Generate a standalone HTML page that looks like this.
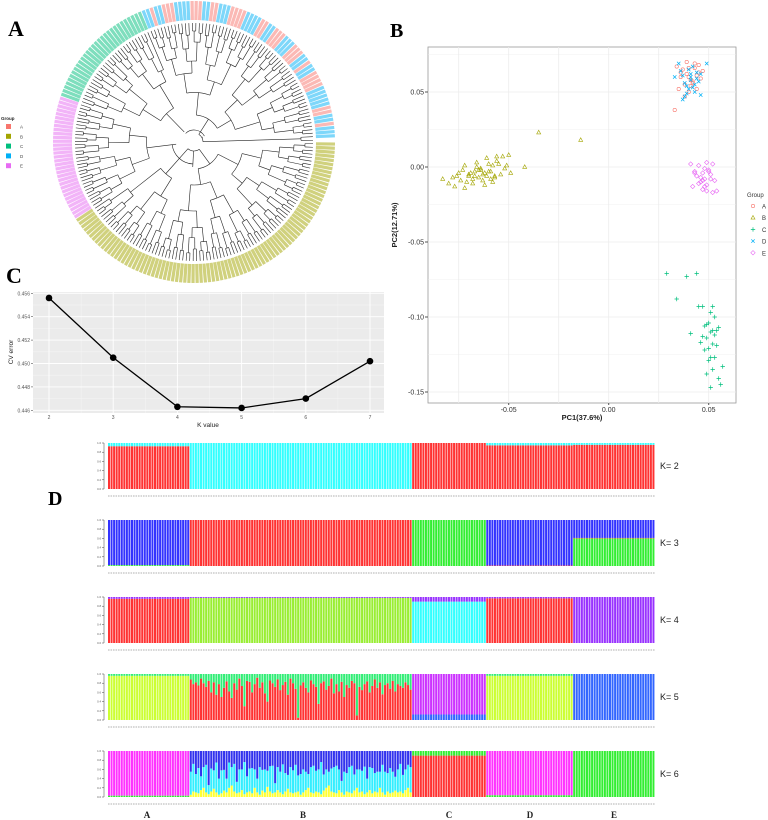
<!DOCTYPE html>
<html><head><meta charset="utf-8"><style>
body{margin:0;background:#fff;width:768px;height:820px;overflow:hidden}
svg{display:block;font-family:"Liberation Sans",sans-serif}
.pl{font-family:"Liberation Serif",serif;font-weight:bold}
</style></head><body>
<svg id="s" width="768" height="820" viewBox="0 0 768 820">
<text class="pl" x="8" y="36" font-size="22">A</text>
<text class="pl" x="390" y="37" font-size="20">B</text>
<text class="pl" x="6" y="283" font-size="22">C</text>
<text class="pl" x="48" y="505" font-size="20">D</text>
<g id="gA"></g>
<g id="gB"></g>
<g id="gC"></g>
<g id="gD"></g>
</svg>
<script>
// ---------- data ----------
const groups=["A","B","C","D","E"];
const groupColors=["#F8766D","#A3A500","#00BF7D","#00B0F6","#E76BF3"];
// Panel C
const kValues=[2,3,4,5,6,7];
const cvError=[0.4556,0.4505,0.4463,0.4462,0.4470,0.4502];
const cvTicks=[0.446,0.448,0.450,0.452,0.454,0.456];
// Panel B (PCA)
const pcaAx=[0.036,0.040,0.043,0.038,0.045,0.041,0.039,0.047,0.035,0.042,0.044,0.037,0.040,0.046,0.038,0.033,0.041,0.043,0.039,0.036,0.045,0.042,0.040,0.034,0.044];
const pcaAy=[0.063,0.060,0.066,0.055,0.068,0.058,0.062,0.064,0.052,0.057,0.061,0.065,0.050,0.059,0.047,0.038,0.054,0.069,0.070,0.060,0.063,0.056,0.066,0.067,0.052];
const pcaBx=[-0.083,-0.080,-0.078,-0.077,-0.075,-0.074,-0.073,-0.072,-0.071,-0.070,-0.069,-0.068,-0.067,-0.066,-0.065,-0.064,-0.063,-0.062,-0.061,-0.060,-0.059,-0.058,-0.057,-0.056,-0.055,-0.054,-0.053,-0.052,-0.051,-0.050,-0.072,-0.068,-0.065,-0.062,-0.060,-0.058,-0.066,-0.070,-0.063,-0.061,-0.059,-0.064,-0.067,-0.057,-0.056,-0.035,-0.014,-0.042,-0.049,-0.076];
const pcaBy=[-0.008,-0.011,-0.007,-0.013,-0.004,-0.009,-0.002,0.001,-0.010,-0.006,-0.004,-0.011,-0.003,0.000,-0.007,-0.001,-0.005,-0.012,0.006,-0.003,-0.008,0.001,-0.006,0.007,0.002,-0.005,0.007,-0.001,0.001,0.008,-0.014,-0.008,-0.002,-0.004,0.002,-0.010,0.003,-0.005,-0.009,-0.006,-0.003,-0.002,-0.006,-0.007,0.004,0.023,0.018,0.000,-0.004,-0.006];
const pcaCx=[0.029,0.039,0.044,0.034,0.045,0.047,0.052,0.051,0.053,0.049,0.055,0.050,0.052,0.048,0.054,0.041,0.047,0.049,0.051,0.053,0.050,0.052,0.048,0.054,0.051,0.050,0.053,0.057,0.055,0.052,0.056,0.051,0.049,0.046];
const pcaCy=[-0.071,-0.073,-0.071,-0.088,-0.093,-0.093,-0.093,-0.097,-0.100,-0.105,-0.107,-0.104,-0.109,-0.106,-0.109,-0.111,-0.113,-0.114,-0.110,-0.112,-0.121,-0.118,-0.122,-0.119,-0.127,-0.129,-0.127,-0.133,-0.141,-0.135,-0.145,-0.147,-0.138,-0.117];
const pcaDx=[0.037,0.041,0.044,0.039,0.043,0.036,0.046,0.040,0.042,0.038,0.045,0.035,0.041,0.043,0.039,0.049,0.037,0.044,0.040,0.042,0.033,0.038,0.046,0.041];
const pcaDy=[0.061,0.058,0.063,0.049,0.055,0.064,0.062,0.052,0.067,0.047,0.057,0.069,0.060,0.050,0.054,0.069,0.045,0.059,0.065,0.053,0.060,0.056,0.048,0.062];
const pcaEx=[0.041,0.043,0.045,0.047,0.048,0.049,0.050,0.046,0.044,0.048,0.051,0.052,0.053,0.054,0.047,0.045,0.049,0.050,0.046,0.048,0.051,0.043,0.042,0.047,0.049,0.052];
const pcaEy=[0.002,-0.003,0.001,-0.004,-0.008,0.003,-0.002,-0.010,-0.006,-0.013,-0.005,0.002,-0.009,-0.016,-0.015,-0.011,-0.012,-0.003,-0.007,-0.001,-0.008,-0.004,-0.013,-0.009,-0.016,-0.017];
const pcaXTicks=[-0.05,0.00,0.05];
const pcaYTicks=[0.05,0.00,-0.05,-0.10,-0.15];
// Panel D (admixture)
const groupCounts=[32,87,29,34,32];
const kRows=[2,3,4,5,6];
const k2Colors=["#ff3333","#33ffff"];
const k2Mix=[[0.93,0.07],[0,1],[1,0],[0.95,0.05],[0.96,0.04]];
const k3Colors=["#33ee33","#ff3333","#3333ff"];
const k3Mix=[[0.02,0,0.98],[0,1,0],[1,0,0],[0,0.01,0.99],[0.6,0.01,0.39]];
const k4Colors=["#ff3333","#99ee33","#33ffff","#9933ff"];
const k4Mix=[[0.96,0,0,0.04],[0,0.98,0,0.02],[0,0,0.9,0.1],[0.97,0,0,0.03],[0,0,0,1]];
const k5Colors=["#3366ff","#ff3333","#ccff33","#cc33ff","#33ee77"];
const k5Mix=[[0,0,0.96,0,0.04],[0,0.8,0,0,0.2],[0.12,0,0,0.88,0],[0,0,0.96,0,0.04],[1,0,0,0,0]];
const k5BRed=[0.88,0.78,0.82,0.75,0.9,0.8,0.72,0.85,0.6,0.82,0.55,0.78,0.5,0.7,0.84,0.62,0.48,0.8,0.66,0.9,0.74,0.3,0.85,0.83,0.6,0.78,0.92,0.7,0.82,0.58,0.4,0.86,0.8,0.72,0.88,0.65,0.76,0.83,0.55,0.9,0.8,0.68,0.05,0.75,0.82,0.7,0.6,0.86,0.78,0.72,0.35,0.8,0.84,0.66,0.74,0.9,0.58,0.78,0.62,0.83,0.5,0.76,0.7,0.85,0.8,0.1,0.72,0.65,0.78,0.84,0.6,0.74,0.88,0.7,0.82,0.56,0.76,0.8,0.68,0.85,0.62,0.78,0.74,0.7,0.82,0.76,0.66];
const k6Colors=["#ffff33","#33eeff","#3333ee","#ff3333","#33ee33","#ff33ff"];
const k6Mix=[[0,0,0,0,0.03,0.97],[0.1,0.5,0.4,0,0,0],[0,0,0,0.9,0.1,0],[0,0,0,0,0.04,0.96],[0,0,0,0,1,0]];
const k6BYellow=[0.05,0.12,0.1,0.08,0.15,0.2,0.1,0.06,0.12,0.18,0.1,0.05,0.08,0.14,0.1,0.2,0.25,0.12,0.08,0.1,0.15,0.06,0.1,0.12,0.08,0.2,0.1,0.05,0.14,0.1,0.22,0.12,0.08,0.1,0.15,0.1,0.06,0.12,0.18,0.1,0.08,0.1,0.12,0.05,0.1,0.15,0.2,0.1,0.08,0.12,0.1,0.06,0.14,0.2,0.25,0.12,0.1,0.08,0.15,0.1,0.05,0.12,0.1,0.08,0.14,0.2,0.1,0.12,0.06,0.1,0.15,0.08,0.12,0.1,0.2,0.1,0.05,0.12,0.08,0.1,0.14,0.1,0.12,0.08,0.15,0.2,0.1];
const k6BCyan=[0.5,0.6,0.4,0.55,0.3,0.45,0.6,0.2,0.5,0.4,0.65,0.35,0.5,0.45,0.3,0.55,0.4,0.6,0.25,0.5,0.45,0.7,0.35,0.5,0.55,0.4,0.3,0.6,0.45,0.5,0.35,0.55,0.6,0.2,0.5,0.45,0.65,0.4,0.3,0.55,0.5,0.6,0.35,0.45,0.5,0.4,0.3,0.55,0.6,0.45,0.5,0.7,0.35,0.4,0.3,0.5,0.55,0.6,0.45,0.25,0.5,0.4,0.55,0.6,0.35,0.4,0.5,0.45,0.6,0.3,0.5,0.55,0.4,0.45,0.35,0.6,0.5,0.4,0.55,0.45,0.3,0.5,0.6,0.4,0.45,0.5,0.55];
// Panel A leaf ordering of mixed A/D clade
const adOrder="DDADDAAADDDDAAADDAADDDAAAADDDDAADDAAADDDAAADDADDAAAADDDDDAADDADDD";

const NS="http://www.w3.org/2000/svg";
function mk(tag,attrs,parent){const e=document.createElementNS(NS,tag);for(const k in attrs)e.setAttribute(k,attrs[k]);parent.appendChild(e);return e;}

// ---------- Panel A ----------
(function(){
const g=document.getElementById("gA");
const cx=194,cy=142,rLeaf=119,rIn=122,rOut=141;
const spans=[["B",0,147,87],["E",147,199,32],["C",199,248,29],["AD",248,360,66]];
const rad=a=>a*Math.PI/180;
const P=(r,a)=>[cx+r*Math.cos(rad(a)),cy+r*Math.sin(rad(a))];
let tops=[];
spans.forEach((sp,si)=>{
  const n=sp[3],step=(sp[2]-sp[1])/n;
  let nodes=[];
  for(let i=0;i<n;i++){
    const a=sp[1]+step*(i+0.5);
    const grp=sp[0]==="AD"?adOrder[i]:sp[0];
    const col=groupColors[groups.indexOf(grp)];
    const p1=P(rIn,a),p2=P(rOut,a);
    const ln=mk("line",{x1:p1[0],y1:p1[1],x2:p2[0],y2:p2[1],stroke:col,"stroke-width":3.2,opacity:0.5},g);
    
    
    nodes.push({a:a,r:rLeaf});
  }
  let lvl=0;const dr=[8,9,10,12,14,16,18,20];
  while(nodes.length>1){
    const nx=[];
    for(let i=0;i<nodes.length;i+=2){
      if(i+1>=nodes.length){nx.push(nodes[i]);continue;}
      const a=nodes[i],b=nodes[i+1];
      const r=Math.min(a.r,b.r)-dr[Math.min(lvl,7)]*(1+((i/2+si)%3)*0.25);
      [a,b].forEach(c=>{const p1=P(c.r,c.a),p2=P(r,c.a);mk("line",{x1:p1[0],y1:p1[1],x2:p2[0],y2:p2[1],stroke:"#222","stroke-width":0.6},g);});
      const p1=P(r,a.a),p2=P(r,b.a);
      mk("path",{d:`M${p1[0]},${p1[1]}A${r},${r} 0 0 1 ${p2[0]},${p2[1]}`,fill:"none",stroke:"#222","stroke-width":0.6},g);
      nx.push({a:(a.a+b.a)/2,r:r});
    }
    nodes=nx;lvl++;
  }
  tops.push(nodes[0]);
});
const rootR=[25,18,14,10];
tops.forEach((t,i)=>{const r=rootR[i];const p1=P(t.r,t.a),p2=P(r,t.a);mk("line",{x1:p1[0],y1:p1[1],x2:p2[0],y2:p2[1],stroke:"#222","stroke-width":0.6},g);});
mk("path",{d:`M${P(22,tops[0].a)}A22,22 0 0 1 ${P(22,tops[1].a)}`,fill:"none",stroke:"#222","stroke-width":0.6},g);
mk("path",{d:`M${P(12,tops[2].a)}A12,12 0 0 1 ${P(12,tops[3].a)}`,fill:"none",stroke:"#222","stroke-width":0.6},g);
// legend
const lg=mk("g",{},g);
mk("text",{x:1,y:120,"font-size":4.5,"font-weight":"bold",fill:"#222"},lg).textContent="Group";
groups.forEach((gr,i)=>{const y=124+i*9.8;
  const r=mk("rect",{x:6,y:y,width:5,height:5,fill:groupColors[i]},lg);
  
  mk("text",{x:20,y:y+4.5,"font-size":4.5,fill:"#444"},lg).textContent=gr;});
})();

// ---------- Panel B ----------
(function(){
const g=document.getElementById("gB");
const x0=428,x1=736,y0=47,y1=403;
const X=v=>608.7+v*2000, Y=v=>167-v*1500;
mk("rect",{x:x0,y:y0,width:x1-x0,height:y1-y0,fill:"#fff",stroke:"#999","stroke-width":0.8},g);
for(let v=-0.075;v<=0.06;v+=0.025){const x=X(v);if(x>x0&&x<x1)mk("line",{x1:x,y1:y0,x2:x,y2:y1,stroke:"#ececec","stroke-width":Math.abs(Math.round(v*40)-v*40)<0.01?0.8:0.4},g);}
for(let v=0.075;v>=-0.175;v-=0.025){const y=Y(v);if(y>y0&&y<y1)mk("line",{x1:x0,y1:y,x2:x1,y2:y,stroke:"#ececec","stroke-width":Math.abs(Math.round(v*20)-v*20)<0.01?0.8:0.4},g);}
pcaXTicks.forEach(v=>{const x=X(v);mk("line",{x1:x,y1:y1,x2:x,y2:y1+2,stroke:"#555"},g);mk("text",{x:x,y:y1+9,"font-size":7,"text-anchor":"middle",fill:"#333"},g).textContent=v.toFixed(2);});
pcaYTicks.forEach(v=>{const y=Y(v);mk("line",{x1:x0-3,y1:y,x2:x0,y2:y,stroke:"#555"},g);mk("text",{x:x0-4,y:y+2.5,"font-size":7,"text-anchor":"end",fill:"#333"},g).textContent=v.toFixed(2);});
const xt=mk("text",{x:582,y:420,"font-size":7.5,"font-weight":"bold","text-anchor":"middle",fill:"#222"},g);xt.textContent="PC1(37.6%)";
const yt=mk("text",{x:0,y:0,"font-size":7.5,"font-weight":"bold","text-anchor":"middle",fill:"#222",transform:"translate(397,225) rotate(-90)"},g);yt.textContent="PC2(12.71%)";
function marker(shape,x,y,col,par){
  if(shape==="A")return mk("circle",{cx:x,cy:y,r:1.7,fill:"none",stroke:col,"stroke-width":0.6},par);
  if(shape==="B")return mk("path",{d:`M${x},${y-2.2}L${x+2},${y+1.4}L${x-2},${y+1.4}Z`,fill:"none",stroke:col,"stroke-width":0.6},par);
  if(shape==="C")return mk("path",{d:`M${x-2.2},${y}H${x+2.2}M${x},${y-2.2}V${y+2.2}`,stroke:col,"stroke-width":0.7},par);
  if(shape==="D")return mk("path",{d:`M${x-1.7},${y-1.7}L${x+1.7},${y+1.7}M${x+1.7},${y-1.7}L${x-1.7},${y+1.7}`,stroke:col,"stroke-width":0.7},par);
  return mk("path",{d:`M${x},${y-2.2}L${x+2.2},${y}L${x},${y+2.2}L${x-2.2},${y}Z`,fill:"none",stroke:col,"stroke-width":0.6},par);
}
const sets=[["B",pcaBx,pcaBy],["C",pcaCx,pcaCy],["E",pcaEx,pcaEy],["A",pcaAx,pcaAy],["D",pcaDx,pcaDy]];
sets.forEach(s=>{const col=groupColors[groups.indexOf(s[0])];
  s[1].forEach((v,i)=>{const m=marker(s[0],X(v),Y(s[2][i]),col,g);
    
    });});
const lg=mk("g",{},g);
mk("text",{x:747,y:197,"font-size":6,fill:"#333"},lg).textContent="Group";
groups.forEach((gr,i)=>{const y=206+i*11.7;marker(gr,753,y,groupColors[i],lg);mk("text",{x:762,y:y+2.5,"font-size":6,fill:"#333"},lg).textContent=gr;});
})();

// ---------- Panel C ----------
(function(){
const g=document.getElementById("gC");
const x0=33,x1=384,y0=292,y1=413;
const X=k=>49+(k-2)*64.2, Y=v=>293.3+(0.456-v)*11700;
mk("rect",{x:x0,y:y0,width:x1-x0,height:y1-y0,fill:"#ebebeb"},g);
cvTicks.forEach((v,i)=>{if(i<cvTicks.length-1){const y=Y(v+0.001);mk("line",{x1:x0,y1:y,x2:x1,y2:y,stroke:"#f6f6f6","stroke-width":0.5},g);}});
kValues.forEach((k,i)=>{if(i<kValues.length-1){const x=X(k+0.5);mk("line",{x1:x,y1:y0,x2:x,y2:y1,stroke:"#f6f6f6","stroke-width":0.5},g);}});
cvTicks.forEach(v=>{const y=Y(v);mk("line",{x1:x0,y1:y,x2:x1,y2:y,stroke:"#fff","stroke-width":0.9},g);mk("line",{x1:x0-2,y1:y,x2:x0,y2:y,stroke:"#555","stroke-width":0.6},g);mk("text",{x:x0-3,y:y+2,"font-size":5,"text-anchor":"end",fill:"#555"},g).textContent=v.toFixed(3);});
kValues.forEach(k=>{const x=X(k);mk("line",{x1:x,y1:y0,x2:x,y2:y1,stroke:"#fff","stroke-width":0.9},g);mk("text",{x:x,y:y1+6,"font-size":5,"text-anchor":"middle",fill:"#555"},g).textContent=k;});
const pts=kValues.map((k,i)=>X(k)+","+Y(cvError[i])).join(" ");
const pl=mk("polyline",{points:pts,fill:"none",stroke:"#000","stroke-width":1.3},g);
kValues.forEach((k,i)=>{const c=mk("circle",{cx:X(k),cy:Y(cvError[i]),r:3.3,fill:"#000"},g);
  
  });
mk("text",{x:208,y:427,"font-size":6.5,"text-anchor":"middle",fill:"#222"},g).textContent="K value";
mk("text",{x:0,y:0,"font-size":6.5,"text-anchor":"middle",fill:"#222",transform:"translate(13,352) rotate(-90)"},g).textContent="CV error";
})();

// ---------- Panel D ----------
(function(){
const g=document.getElementById("gD");
const xL=108,xR=655,rowTops=[443,520,597,674,751],H=46;
const total=groupCounts.reduce((a,b)=>a+b,0),pitch=(xR-xL)/total,bw=pitch*0.78;
const cols=[k2Colors,k3Colors,k4Colors,k5Colors,k6Colors],mixes=[k2Mix,k3Mix,k4Mix,k5Mix,k6Mix];
kRows.forEach((k,ri)=>{
  const top=rowTops[ri],bot=top+H;
  const row=mk("g",{},g);
  let idx=0;
  groupCounts.forEach((n,gi)=>{
    for(let j=0;j<n;j++){
      let mix=mixes[ri][gi].slice();
      if(k===5&&gi===1){const r=k5BRed[j%k5BRed.length];mix=[0,r,0,0,1-r];}
      if(k===6&&gi===1){const y=k6BYellow[j%k6BYellow.length],c=k6BCyan[j%k6BCyan.length];mix=[y,c,Math.max(0,1-y-c),0,0,0];}
      const x=xL+idx*pitch;let yb=bot;
      mix.forEach((f,ci)=>{if(f<=0)return;const h=f*H;
        const r=mk("rect",{x:x,y:yb-h,width:bw,height:h,fill:cols[ri][ci]},row);
        
        
        yb-=h;});
      idx++;
    }
  });
  mk("line",{x1:xL-4,y1:top,x2:xL-4,y2:bot,stroke:"#444","stroke-width":0.5},row);
  for(let t=0;t<=5;t++){const y=bot-t*H/5;mk("line",{x1:xL-6,y1:y,x2:xL-4,y2:y,stroke:"#444","stroke-width":0.5},row);
    mk("text",{x:xL-7,y:y+1,"font-size":2.8,"text-anchor":"end",fill:"#555"},row).textContent=(t/5).toFixed(1);}
  mk("line",{x1:xL,y1:bot+7,x2:xR,y2:bot+7,stroke:"#ccc","stroke-width":1.4,"stroke-dasharray":"1.6 0.9"},row);
  const lab=mk("text",{x:660,y:top+H/2+3,"font-size":9,fill:"#222"},row);lab.textContent="K= "+k;
  
});
const gx=[147,303,449,530,614];
groups.forEach((gr,i)=>{const t=mk("text",{x:gx[i],y:818,"font-size":9,"font-weight":"bold","text-anchor":"middle",fill:"#222","font-family":"Liberation Serif, serif"},g);t.textContent=gr;
  });
})();
</script>
</body></html>
